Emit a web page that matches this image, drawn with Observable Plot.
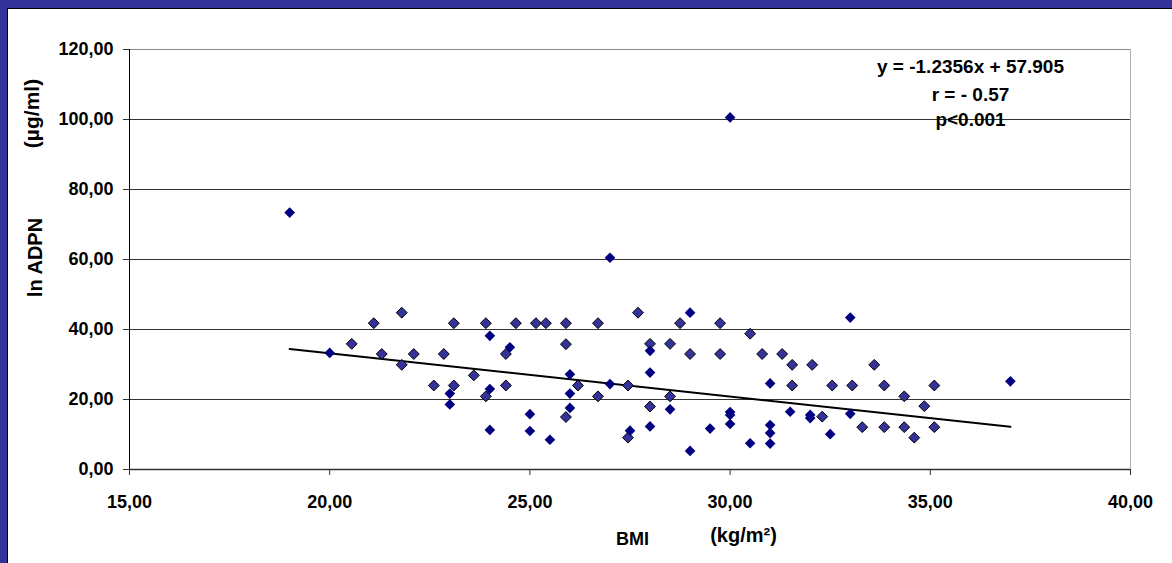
<!DOCTYPE html>
<html>
<head>
<meta charset="utf-8">
<script src="https://cdn.jsdelivr.net/npm/d3@7"></script>
<script src="https://cdn.jsdelivr.net/npm/@observablehq/plot@0.6"></script>
<style>
  html, body { margin: 0; padding: 0; width: 1172px; height: 563px; overflow: hidden; background: #333399; }
  #panel { position: absolute; left: 7px; top: 8px; width: 1165px; height: 555px; box-sizing: border-box;
           background: #fff; border-left: 1px solid #000; border-top: 1px solid #000; }
  #panel svg { display: block; }
</style>
</head>
<body>
<div id="panel"></div>
<script>
// Group 1: solid navy diamonds (BMI kg/m², ADPN µg/ml)
const bmiSolid = [19.0, 20.0, 23.0, 23.0, 24.0, 24.0, 24.0, 24.5, 25.0, 25.0,
                  25.5, 26.0, 26.0, 26.0, 27.0, 27.0, 27.5, 28.0, 28.0, 28.0,
                  28.5, 29.0, 29.0, 29.5, 30.0, 30.0, 30.0, 30.0, 30.5, 31.0,
                  31.0, 31.0, 31.0, 31.5, 32.0, 32.0, 32.5, 33.0, 33.0, 37.0];
const adpnSolid = [73.4, 33.3, 21.7, 18.6, 38.2, 23.0, 11.3, 34.9, 15.8, 11.0,
                   8.5, 27.2, 21.7, 17.6, 60.5, 24.4, 11.1, 33.9, 27.7, 12.3,
                   17.2, 44.8, 5.3, 11.7, 100.6, 16.4, 15.6, 13.0, 7.5, 24.6,
                   12.7, 10.4, 7.4, 16.5, 15.6, 14.7, 10.1, 43.4, 15.9, 25.2];

// Group 2: outlined blue diamonds
const bmiOutlined = [20.55, 21.1, 21.3, 21.8, 21.8, 22.1, 22.6, 22.85, 23.1, 23.1,
                     23.6, 23.9, 23.9, 24.4, 24.4, 24.65, 25.15, 25.4, 25.9, 25.9,
                     25.9, 26.2, 26.7, 26.7, 27.45, 27.45, 27.7, 28.0, 28.0, 28.5,
                     28.5, 28.75, 29.0, 29.75, 29.75, 30.5, 30.8, 31.3, 31.55, 31.55,
                     32.05, 32.3, 32.55, 33.05, 33.3, 33.6, 33.85, 33.85, 34.35, 34.35,
                     34.6, 34.85, 35.1, 35.1];
const adpnOutlined = [35.9, 41.8, 33.0, 44.8, 29.9, 33.0, 24.0, 33.0, 41.8, 24.0,
                      26.9, 41.8, 20.9, 33.0, 24.0, 41.8, 41.8, 41.8, 41.8, 35.8,
                      15.0, 24.0, 41.8, 20.9, 24.0, 9.1, 44.8, 35.9, 18.0, 35.9,
                      20.9, 41.8, 33.0, 41.8, 33.0, 38.8, 33.0, 33.0, 29.9, 24.0,
                      29.9, 15.1, 24.0, 24.0, 12.1, 29.9, 24.0, 12.1, 20.9, 12.1,
                      9.1, 18.1, 24.0, 12.1];

// Axis ticks
const xTicks = [15, 20, 25, 30, 35, 40];
const yTicks = [0, 20, 40, 60, 80, 100, 120];
const yGrid = [20, 40, 60, 80, 100];

// Linear fit reported on the chart
const fitSlope = -1.2356;
const fitIntercept = 57.905;
const statLines = ["y = -1.2356x + 57.905", "r = - 0.57", "p<0.001"];

// Axis titles
const yTitleTop = "(µg/ml)";
const yTitleMain = "ln ADPN";
const xTitleMain = "BMI";
const xTitleUnit = "(kg/m²)";

const solid = bmiSolid.map((x, i) => ({x, y: adpnSolid[i]}));
const outlined = bmiOutlined.map((x, i) => ({x, y: adpnOutlined[i]}));
const allX = bmiSolid.concat(bmiOutlined);
const fitX = [d3.min(allX), d3.max(allX)];
const fit = fitX.map(x => ({x, y: fitSlope * x + fitIntercept}));

const comma2 = d => d.toFixed(2).replace(".", ",");
const font = "'Liberation Sans', Arial, sans-serif";
const title = {fontWeight: "bold", textAnchor: "middle", lineAnchor: "middle"};

const chart = Plot.plot({
  width: 1164,
  height: 554,
  marginLeft: 121,
  marginRight: 42,
  marginTop: 40,
  marginBottom: 94,
  x: {domain: [15, 40]},
  y: {domain: [0, 120]},
  style: {background: "#fff", color: "#000", fontFamily: font, fontSize: "18px", fontWeight: "bold", overflow: "visible"},
  marks: [
    Plot.ruleY(yGrid, {stroke: "#333", strokeWidth: 1}),
    Plot.ruleY([120], {stroke: "#8a8a8a", strokeWidth: 1}),
    Plot.ruleX([40], {stroke: "#b0b0b0", strokeWidth: 1}),
    Plot.ruleX([15], {stroke: "#000", strokeWidth: 1}),
    Plot.ruleY([0], {stroke: "#333", strokeWidth: 1.5}),
    Plot.axisX({ticks: xTicks, tickFormat: comma2, tickSize: 6, tickPadding: 20, label: null,
                fontSize: 18, fontWeight: "bold", fontFamily: font, stroke: "#333"}),
    Plot.axisY({ticks: yTicks, tickFormat: comma2, tickSize: 6, tickPadding: 10, label: null,
                fontSize: 18, fontWeight: "bold", fontFamily: font, stroke: "#333"}),
    Plot.line(fit, {x: "x", y: "y", stroke: "#000", strokeWidth: 2}),
    Plot.dot(outlined, {x: "x", y: "y", symbol: "diamond2", r: 4.9, fill: "#333399", stroke: "#000", strokeWidth: 1}),
    Plot.dot(solid, {x: "x", y: "y", symbol: "diamond2", r: 4.8, fill: "#000080", stroke: "none"}),
    // regression statistics
    Plot.text([statLines[0]], {...title, frameAnchor: "top-left", dx: 841, dy: 17, fontSize: 19}),
    Plot.text([statLines[1]], {...title, frameAnchor: "top-left", dx: 841, dy: 45, fontSize: 19}),
    Plot.text([statLines[2]], {...title, frameAnchor: "top-left", dx: 841, dy: 70, fontSize: 19}),
    // axis titles
    Plot.text([yTitleTop], {...title, frameAnchor: "top-left", dx: -97, dy: 64, rotate: -90, fontSize: 21}),
    Plot.text([yTitleMain], {...title, frameAnchor: "top-left", dx: -94, dy: 208, rotate: -90, fontSize: 20}),
    Plot.text([xTitleMain], {...title, frameAnchor: "bottom-left", dx: 503, dy: 70, fontSize: 18}),
    Plot.text([xTitleUnit], {...title, frameAnchor: "bottom-left", dx: 614, dy: 66, fontSize: 20})
  ]
});

document.getElementById("panel").appendChild(chart);
</script>
</body>
</html>
